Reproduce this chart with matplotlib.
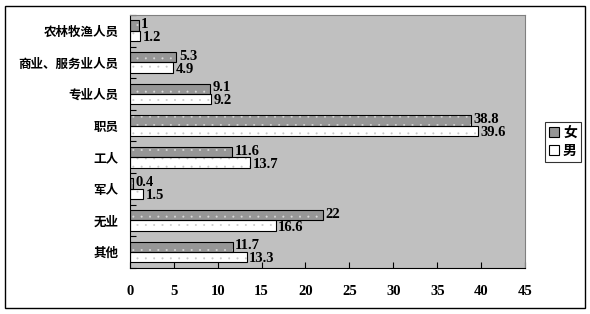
import matplotlib
matplotlib.use('Agg')
import matplotlib.pyplot as plt
from matplotlib.patches import Rectangle, Patch
import numpy as np

plt.rcParams['font.family'] = ['Noto Sans CJK SC', 'DejaVu Sans']
plt.rcParams['hatch.linewidth'] = 0.2

# data, top to bottom
categories = ['农林牧渔人员', '商业、服务业人员', '专业人员', '职员', '工人', '军人', '无业', '其他']
female = [1, 5.3, 9.1, 38.8, 11.6, 0.4, 22, 11.7]
male = [1.2, 4.9, 9.2, 39.6, 13.7, 1.5, 16.6, 13.3]
series_names = ['女', '男']

fig = plt.figure(figsize=(5.9, 3.14), dpi=100)
ax = fig.add_axes([0.220, 0.147, 0.670, 0.805])
ax.set_facecolor('#c0c0c0')

n = len(categories)
y = np.arange(n)
h = 0.33

# female bars (gray) above, male (white) below
yf = y - h / 2
ym = y + h / 2
ax.barh(yf, female, height=h, color='#969696', linewidth=0, zorder=2)
ax.barh(yf, female, height=h, color='none', edgecolor='#dcdcdc', hatch='..', linewidth=0, zorder=3)
ax.barh(ym, male, height=h, color='white', linewidth=0, zorder=2)
ax.barh(ym, male, height=h, color='none', edgecolor='#c8c8c8', hatch='..', linewidth=0, zorder=3)
ax.barh(yf, female, height=h, color='none', edgecolor='black', linewidth=0.8, zorder=4)
ax.barh(ym, male, height=h, color='none', edgecolor='black', linewidth=0.8, zorder=4)

numfont = dict(family='Liberation Serif', fontweight='bold', fontsize=10.5)
for i in range(n):
    ax.text(female[i] + 0.3, yf[i] - 0.03, f'{female[i]:g}', va='center', ha='left', zorder=5, **numfont)
    ax.text(male[i] + 0.3, ym[i] + 0.05, f'{male[i]:g}', va='center', ha='left', zorder=5, **numfont)

ax.set_xlim(0, 45)
ax.set_ylim(n - 0.5, -0.5)
ax.set_xticks(np.arange(0, 46, 5))
ax.set_xticklabels([str(v) for v in range(0, 46, 5)], family='Liberation Serif', fontweight='bold', fontsize=10.5)
ax.set_yticks(y)
ax.set_yticklabels(categories, fontweight='bold', fontsize=9)
ax.set_yticks(np.arange(-0.5, n, 1), minor=True)
ax.tick_params(axis='y', which='major', length=0, pad=8)
ax.tick_params(axis='y', which='minor', length=4, direction='in', width=0.8)
ax.tick_params(axis='x', length=4, direction='in', width=0.8, pad=12)

for side in ['top', 'right']:
    ax.spines[side].set_color('#808080')
    ax.spines[side].set_linewidth(0.8)
for side in ['left', 'bottom']:
    ax.spines[side].set_color('black')
    ax.spines[side].set_linewidth(0.8)

# legend
handles = [Patch(facecolor='#969696', edgecolor='black', linewidth=0.8),
           Patch(facecolor='white', edgecolor='black', linewidth=0.8)]
leg = fig.legend(handles, series_names, loc='center left', bbox_to_anchor=(0.912, 0.548),
                 frameon=True, fancybox=False, edgecolor='black', handlelength=0.7, handleheight=0.7,
                 handletextpad=0.3, borderpad=0.3, labelspacing=0.3, prop={'size': 10, 'weight': 'bold'})
leg.get_frame().set_linewidth(0.8)

# outer border
fig.patches.append(Rectangle((5 / 590, 6 / 314), 580 / 590, 302 / 314, transform=fig.transFigure,
                             fill=False, edgecolor='black', linewidth=1))

fig.savefig('out.png', dpi=100)
